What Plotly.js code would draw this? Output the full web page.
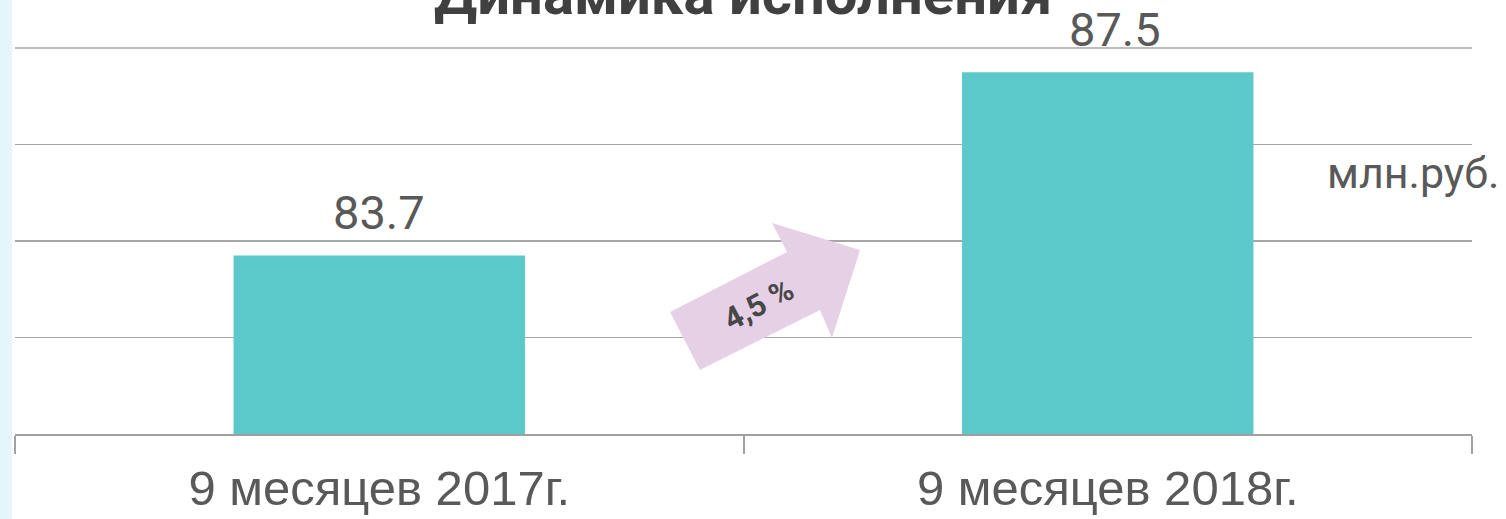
<!DOCTYPE html>
<html>
<head>
<meta charset="utf-8">
<script src="https://cdn.plot.ly/plotly-3.0.1.min.js"></script>
<style>html,body{margin:0;padding:0;background:#fff;}#chart{width:1506px;height:519px;}</style>
</head>
<body>
<div id="chart"></div>
<script>
const categories = ["9 месяцев 2017г.", "9 месяцев 2018г."];
const values = [83.7, 87.5];
const valueLabels = ["83.7", "87.5"];
const titleText = "Динамика исполнения";
const unitText = "млн.руб.";
const growthText = "4,5 %";

const W = 1506, H = 519;
const L = 15, R = 34, T = 48, B = 85;
const pw = W - L - R, ph = H - T - B;
const px = x => (x - L) / pw;
const py = y => (H - B - y) / ph;

const arrowPts = [[700,370],[670,312],[787,252],[772,223],[860,250],[832,338],[820,310]];
const arrowPath = arrowPts.map((p,i)=> (i? 'L':'M') + px(p[0]).toFixed(4) + ',' + py(p[1]).toFixed(4)).join(' ') + ' Z';

const trace = {
  type: 'bar',
  x: categories,
  y: values,
  marker: {color: '#5BC8CA'},
  hoverinfo: 'none'
};

const annotations = categories.map((c, i) => ({
  x: c, y: values[i], xref: 'x', yref: 'y',
  text: valueLabels[i], showarrow: false,
  yanchor: 'bottom', yshift: 13, xshift: i === 1 ? 7 : 0,
  font: {family: 'Roboto', size: 47, color: '#595959'}
}));

annotations.push({
  xref: 'paper', yref: 'paper', x: px(743), y: py(14), yanchor: 'bottom', xanchor: 'center',
  yshift: -16,
  text: '<b>' + titleText + '</b>', showarrow: false,
  font: {family: 'Roboto', size: 58, color: '#404040'}
});
annotations.push({
  xref: 'paper', yref: 'paper', x: px(1501), y: py(173), xanchor: 'right', yanchor: 'middle',
  text: unitText, showarrow: false,
  font: {family: 'Roboto', size: 43, color: '#595959'}
});
annotations.push({
  xref: 'paper', yref: 'paper', x: px(759), y: py(305), xanchor: 'center', yanchor: 'middle',
  text: '<b>' + growthText + '</b>', showarrow: false, textangle: -28,
  font: {family: 'Roboto', size: 31, color: '#474747'}
});

const layout = {
  width: W, height: H,
  margin: {l: L, r: R, t: T, b: B, pad: 0},
  paper_bgcolor: '#ffffff', plot_bgcolor: '#ffffff',
  showlegend: false,
  bargap: 0.6,
  xaxis: {
    type: 'category',
    showline: true, linecolor: '#A0A0A0', linewidth: 2,
    ticks: 'outside', tickson: 'boundaries', ticklen: 18, tickwidth: 2, tickcolor: '#A0A0A0',
    ticklabelstandoff: 10,
    tickfont: {family: 'Liberation Sans', size: 49, color: '#595959'},
    showgrid: false, zeroline: false, fixedrange: true
  },
  yaxis: {
    range: [80, 88], dtick: 2, tick0: 80,
    showticklabels: false, ticks: '',
    showgrid: true, gridcolor: '#A6A6A6', gridwidth: 1.5,
    zeroline: false, showline: false, fixedrange: true
  },
  shapes: [
    {type: 'rect', xref: 'paper', yref: 'paper', x0: px(0), x1: px(12), y0: py(519), y1: py(0),
     fillcolor: 'rgba(205,238,248,0.55)', line: {width: 0}, layer: 'below'},
    {type: 'line', xref: 'paper', yref: 'paper', x0: 0, x1: 1, y0: 1, y1: 1,
     line: {color: '#A6A6A6', width: 1.5}, layer: 'below'},
    {type: 'path', xref: 'paper', yref: 'paper', path: arrowPath,
     fillcolor: '#E6D0E6', line: {width: 0}, layer: 'above'}
  ],
  annotations: annotations
};

Plotly.newPlot('chart', [trace], layout, {displayModeBar: false, staticPlot: true});
</script>
</body>
</html>
